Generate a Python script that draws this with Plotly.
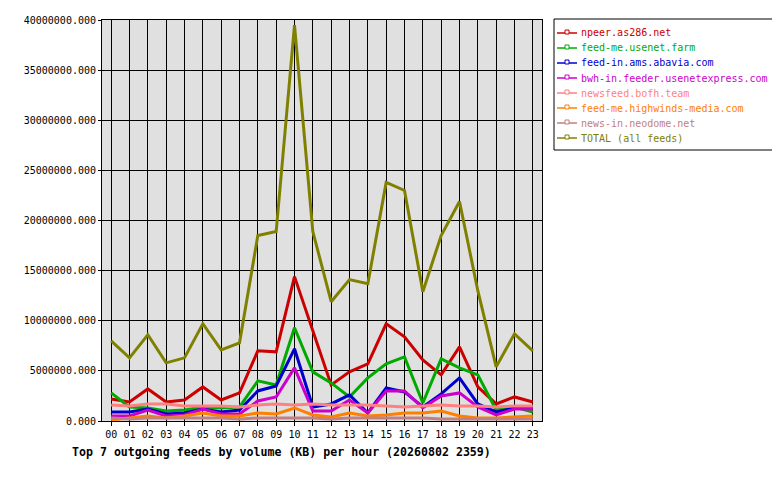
import plotly.graph_objects as go

hours = [f"{h:02d}" for h in range(24)]

feeds = [
    "npeer.as286.net",
    "feed-me.usenet.farm",
    "feed-in.ams.abavia.com",
    "bwh-in.feeder.usenetexpress.com",
    "newsfeed.bofh.team",
    "feed-me.highwinds-media.com",
    "news-in.neodome.net",
    "TOTAL (all feeds)",
]
colors = [
    "rgb(204,0,0)",
    "rgb(0,170,0)",
    "rgb(0,0,204)",
    "rgb(204,0,204)",
    "rgb(255,128,128)",
    "rgb(255,128,0)",
    "rgb(192,128,128)",
    "rgb(128,128,0)",
]

# KB per hour
npeer = [2.2e6, 1.9e6, 3.2e6, 1.9e6, 2.1e6, 3.4e6, 2.1e6, 2.8e6, 7.0e6, 6.9e6, 14.4e6, 9.0e6,
         3.6e6, 4.9e6, 5.7e6, 9.7e6, 8.4e6, 6.1e6, 4.6e6, 7.4e6, 3.4e6, 1.7e6, 2.4e6, 1.9e6]
usenet_farm = [2.8e6, 1.4e6, 1.3e6, 1.0e6, 1.1e6, 1.4e6, 1.3e6, 1.4e6, 4.0e6, 3.6e6, 9.3e6, 4.9e6,
               3.8e6, 2.4e6, 4.3e6, 5.7e6, 6.4e6, 1.8e6, 6.2e6, 5.3e6, 4.6e6, 1.1e6, 1.4e6, 0.9e6]
abavia = [0.9e6, 0.9e6, 1.2e6, 0.7e6, 0.8e6, 1.2e6, 0.9e6, 1.1e6, 3.0e6, 3.5e6, 7.2e6, 1.4e6,
          1.7e6, 2.6e6, 0.8e6, 3.3e6, 2.9e6, 1.4e6, 2.7e6, 4.3e6, 1.7e6, 0.9e6, 1.3e6, 1.3e6]
usenetexpress = [0.5e6, 0.5e6, 1.1e6, 0.5e6, 0.6e6, 1.2e6, 0.7e6, 0.7e6, 2.0e6, 2.4e6, 5.3e6, 1.0e6,
                 1.0e6, 2.1e6, 0.8e6, 3.0e6, 3.0e6, 1.3e6, 2.5e6, 2.8e6, 1.4e6, 0.6e6, 1.2e6, 1.2e6]
bofh = [1.6e6, 1.5e6, 1.7e6, 1.7e6, 1.5e6, 1.5e6, 1.5e6, 1.4e6, 1.6e6, 1.7e6, 1.6e6, 1.7e6,
        1.6e6, 1.6e6, 1.6e6, 1.5e6, 1.4e6, 1.5e6, 1.6e6, 1.5e6, 1.5e6, 1.4e6, 1.5e6, 1.5e6]
highwinds = [0.1e6, 0.3e6, 0.5e6, 0.3e6, 0.5e6, 0.8e6, 0.5e6, 0.5e6, 0.8e6, 0.7e6, 1.3e6, 0.6e6,
             0.4e6, 0.8e6, 0.5e6, 0.6e6, 0.8e6, 0.8e6, 1.0e6, 0.5e6, 0.3e6, 0.3e6, 0.4e6, 0.5e6]
neodome = [0.3e6, 0.2e6, 0.3e6, 0.3e6, 0.3e6, 0.3e6, 0.3e6, 0.2e6, 0.3e6, 0.3e6, 0.3e6, 0.3e6,
           0.2e6, 0.3e6, 0.3e6, 0.3e6, 0.3e6, 0.3e6, 0.2e6, 0.2e6, 0.2e6, 0.2e6, 0.2e6, 0.2e6]
total = [8.0e6, 6.3e6, 8.6e6, 5.8e6, 6.3e6, 9.7e6, 7.1e6, 7.8e6, 18.5e6, 18.9e6, 39.5e6, 18.9e6,
         11.9e6, 14.1e6, 13.7e6, 23.8e6, 23.0e6, 12.9e6, 18.5e6, 21.9e6, 13.0e6, 5.4e6, 8.7e6, 7.0e6]

series = [npeer, usenet_farm, abavia, usenetexpress, bofh, highwinds, neodome, total]

MONO = "DejaVu Sans Mono"

# the page puts the figure 8px in from the corner, so work in page pixels minus 8
OFF = 8
L, R, T, B = 102 - OFF, 542 - OFF, 20 - OFF, 421 - OFF


def px_x(px):
    return (px - OFF - L) / (R - L)


def px_y(py):
    return (B - (py - OFF)) / (B - T)


fig = go.Figure()

for name, col, vals in zip(feeds, colors, series):
    fig.add_trace(go.Scatter(
        x=hours, y=vals, name=name, mode="lines",
        line=dict(color=col, width=3),
        showlegend=False, hoverinfo="skip",
    ))

# gd-style legend drawn by hand (plotly's legend rows are too tall)
shapes = [dict(
    type="rect", xref="paper", yref="paper",
    x0=px_x(554), x1=px_x(773), y0=px_y(150), y1=px_y(19),
    line=dict(color="black", width=1), fillcolor="white", layer="above",
)]
annotations = []
for i, (name, col) in enumerate(zip(feeds, colors)):
    yc = 33 + 15 * i
    shapes.append(dict(
        type="line", xref="paper", yref="paper",
        x0=px_x(557), x1=px_x(577), y0=px_y(yc), y1=px_y(yc),
        line=dict(color=col, width=1.5), layer="above",
    ))
    shapes.append(dict(
        type="rect", xref="paper", yref="paper",
        x0=px_x(565), x1=px_x(569), y0=px_y(yc + 1), y1=px_y(yc - 3),
        line=dict(color=col, width=1), fillcolor="white", layer="above",
    ))
    annotations.append(dict(
        text=name, xref="paper", yref="paper", x=px_x(579), y=px_y(yc),
        xanchor="left", yanchor="middle", showarrow=False,
        font=dict(family=MONO, size=10, color=col),
    ))

annotations.append(dict(
    text="<b>Top 7 outgoing feeds by volume (KB) per hour (20260802 2359)</b>",
    xref="paper", yref="paper", x=px_x(70), y=px_y(452),
    xanchor="left", yanchor="middle", showarrow=False,
    font=dict(family=MONO, size=11.6, color="black"),
))

fig.update_xaxes(
    type="category", range=[-0.5, 23.5], automargin=False,
    showgrid=True, gridcolor="black", gridwidth=1,
    showline=True, linecolor="black", linewidth=1, mirror=True,
    ticks="outside", ticklen=4, tickcolor="black",
    tickfont=dict(family=MONO, size=10, color="black"),
    zeroline=False,
)
fig.update_yaxes(
    range=[0, 40e6], dtick=5e6, tickformat=".3f", automargin=False,
    showgrid=True, gridcolor="black", gridwidth=1,
    showline=True, linecolor="black", linewidth=1, mirror=True,
    ticks="outside", ticklen=3, tickcolor="black",
    tickfont=dict(family=MONO, size=10, color="black"),
    zeroline=False,
)

fig.update_layout(
    width=780, height=480,
    margin=dict(l=L, r=780 - R, t=T, b=480 - B, autoexpand=False),
    paper_bgcolor="white", plot_bgcolor="rgb(224,224,224)",
    showlegend=False,
    shapes=shapes,
    annotations=annotations,
)

fig.write_html("out.html")
